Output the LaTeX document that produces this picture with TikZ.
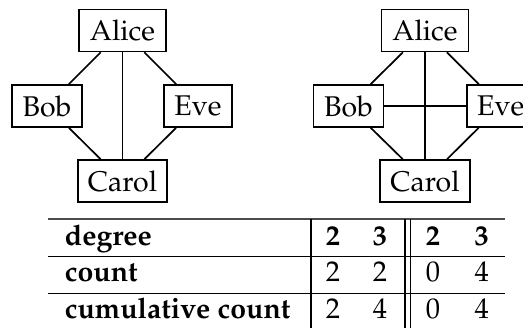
\documentclass[tikz,border=0pt]{standalone}
\usepackage[T1]{fontenc}
\usepackage{mathpazo}
\begin{document}
\begin{tikzpicture}[x=0.3509pt,y=-0.3509pt,
  box/.style={draw,line width=0.6pt,inner sep=0pt,minimum height=14.7pt},
  edge/.style={line width=0.6pt},
  tabrule/.style={line width=0.45pt},
  cell/.style={anchor=base,inner sep=0pt}]
\useasboundingbox (0,0) rectangle (523,327);
% left graph
\node[box,minimum width=30.5pt] (a1) at (122.5,30.5) {Alice};
\node[box,minimum width=24.6pt] (b1) at (47,106) {Bob};
\node[box,minimum width=23.9pt] (e1) at (198,106) {Eve};
\node[box,minimum width=31.3pt] (c1) at (122.5,181) {Carol};
\draw[edge] (a1) -- (b1);
\draw[edge] (a1) -- (e1);
\draw[edge] (a1) -- (c1);
\draw[edge] (b1) -- (c1);
\draw[edge] (e1) -- (c1);
% right graph
\node[box,minimum width=30.5pt] (a2) at (425,30.5) {Alice};
\node[box,minimum width=24.6pt] (b2) at (348.5,106) {Bob};
\node[box,minimum width=23.9pt] (e2) at (500.7,106) {Eve};
\node[box,minimum width=31.8pt] (c2) at (425,181) {Carol};
\draw[edge] (a2) -- (b2);
\draw[edge] (a2) -- (e2);
\draw[edge] (a2) -- (c2);
\draw[edge] (b2) -- (c2);
\draw[edge] (e2) -- (c2);
\draw[edge] (b2) -- (e2);
% table
\draw[tabrule,black!70] (48,219) -- (505,219);
\draw[tabrule] (48,256.7) -- (505,256.7);
\draw[tabrule] (48,293.3) -- (505,293.3);
\draw[tabrule] (311,219) -- (311,330);
\draw[tabrule] (405,219) -- (405,330);
\draw[tabrule] (410.7,219) -- (410.7,330);
\node[cell,anchor=base west] (h0) at (64.3,245) {\textbf{degree}};
\node[cell] (h1) at (333,245) {\textbf{2}};
\node[cell] (h2) at (380,245) {\textbf{3}};
\node[cell] (h3) at (433,245) {\textbf{2}};
\node[cell] (h4) at (481.7,245) {\textbf{3}};
\node[cell,anchor=base west] (r0) at (64.3,281.7) {\textbf{count}};
\node[cell] (r1) at (333,281.7) {2};
\node[cell] (r2) at (380,281.7) {2};
\node[cell] (r3) at (433,281.7) {0};
\node[cell] (r4) at (481.7,281.7) {4};
\node[cell,anchor=base west] (s0) at (64.3,318) {\textbf{cumulative count}};
\node[cell] (s1) at (333,318) {2};
\node[cell] (s2) at (380,318) {4};
\node[cell] (s3) at (433,318) {0};
\node[cell] (s4) at (481.7,318) {4};
\end{tikzpicture}
\end{document}
